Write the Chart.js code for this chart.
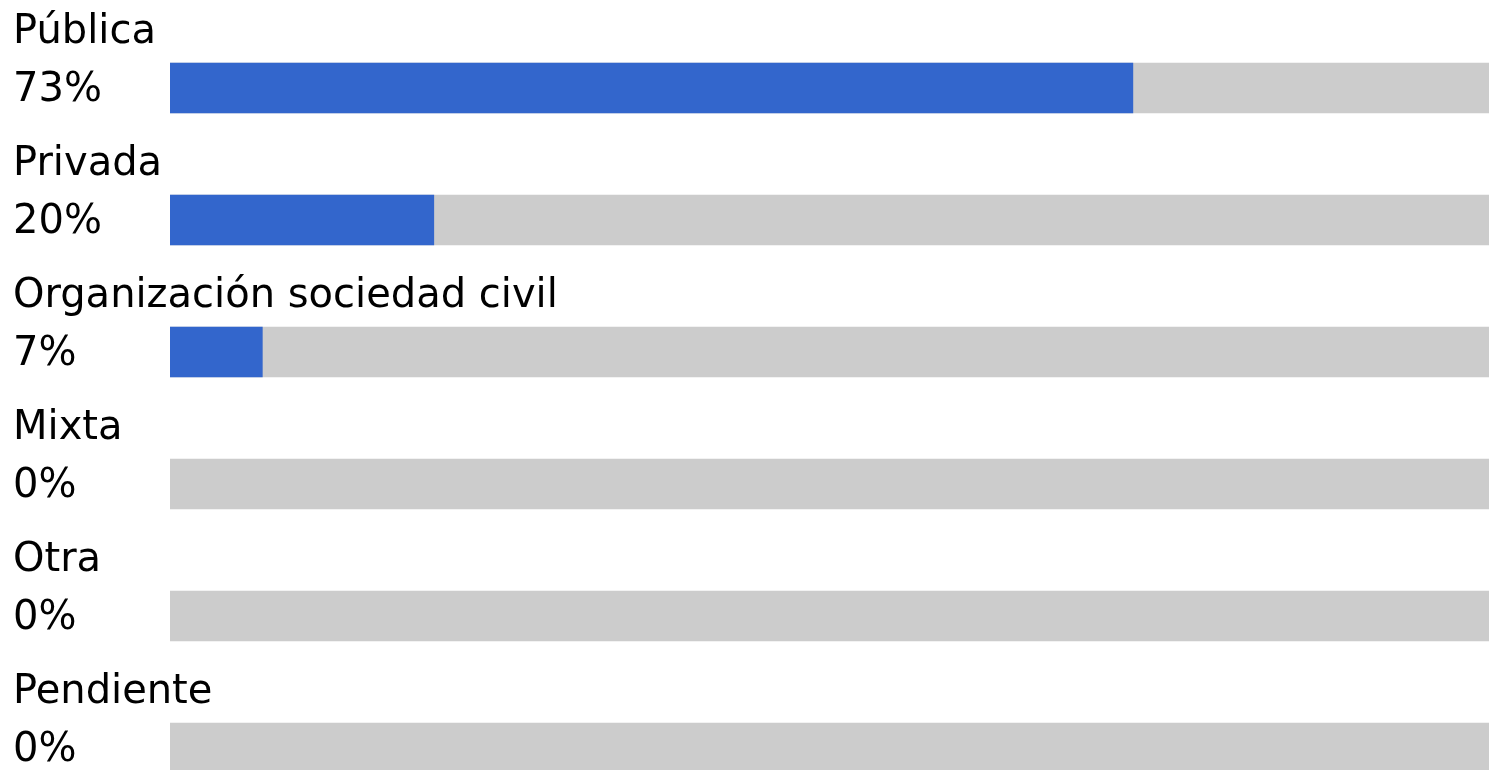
<!DOCTYPE html>
<html>
<head>
<meta charset="utf-8">
<script src="https://cdn.jsdelivr.net/npm/chart.js@4/dist/chart.umd.min.js"></script>
<style>
  html, body { margin: 0; padding: 0; background: #fff; overflow: hidden; }
  #wrap { width: 1489px; height: 814px; }
</style>
</head>
<body>
<div id="wrap"><canvas id="grafico"></canvas></div>
<script>
// datos
const categorias = ['Pública', 'Privada', 'Organización sociedad civil', 'Mixta', 'Otra', 'Pendiente'];
const porcentajes = [73, 20, 7, 0, 0, 0];
const fondo = [100, 100, 100, 100, 100, 100];

// textos encima de cada barra y el % a la izquierda
const etiquetas = {
  id: 'etiquetas',
  afterDatasetsDraw(chart) {
    const ctx = chart.ctx;
    const y = chart.scales.y;
    ctx.save();
    ctx.fillStyle = '#000';
    ctx.font = '40px "DejaVu Sans"';
    ctx.textAlign = 'left';
    ctx.textBaseline = 'alphabetic';
    categorias.forEach((cat, i) => {
      const cy = y.getPixelForValue(i);
      ctx.fillText(cat, 13, cy - 45);
      ctx.fillText(porcentajes[i] + '%', 13, cy + 13);
    });
    ctx.restore();
  }
};

const ctx = document.getElementById('grafico').getContext('2d');
const miGrafico = new Chart(ctx, {
  type: 'bar',
  data: {
    labels: categorias,
    datasets: [{
      data: porcentajes,
      // sin la rayita azul cuando vale 0
      backgroundColor: c => (c.raw > 0 ? '#3366cc' : 'rgba(0,0,0,0)'),
      barThickness: 50,
      grouped: false
    }, {
      data: fondo,
      backgroundColor: '#cccccc',
      barThickness: 50,
      grouped: false
    }]
  },
  options: {
    indexAxis: 'y',
    responsive: true,
    maintainAspectRatio: false,
    animation: false,
    layout: { padding: { left: 170, right: 0, top: 22, bottom: 0 } },
    plugins: {
      legend: { display: false },
      tooltip: { enabled: false }
    },
    scales: {
      x: { display: false, min: 0, max: 100 },
      y: { display: false }
    }
  },
  plugins: [etiquetas]
});
</script>
</body>
</html>
